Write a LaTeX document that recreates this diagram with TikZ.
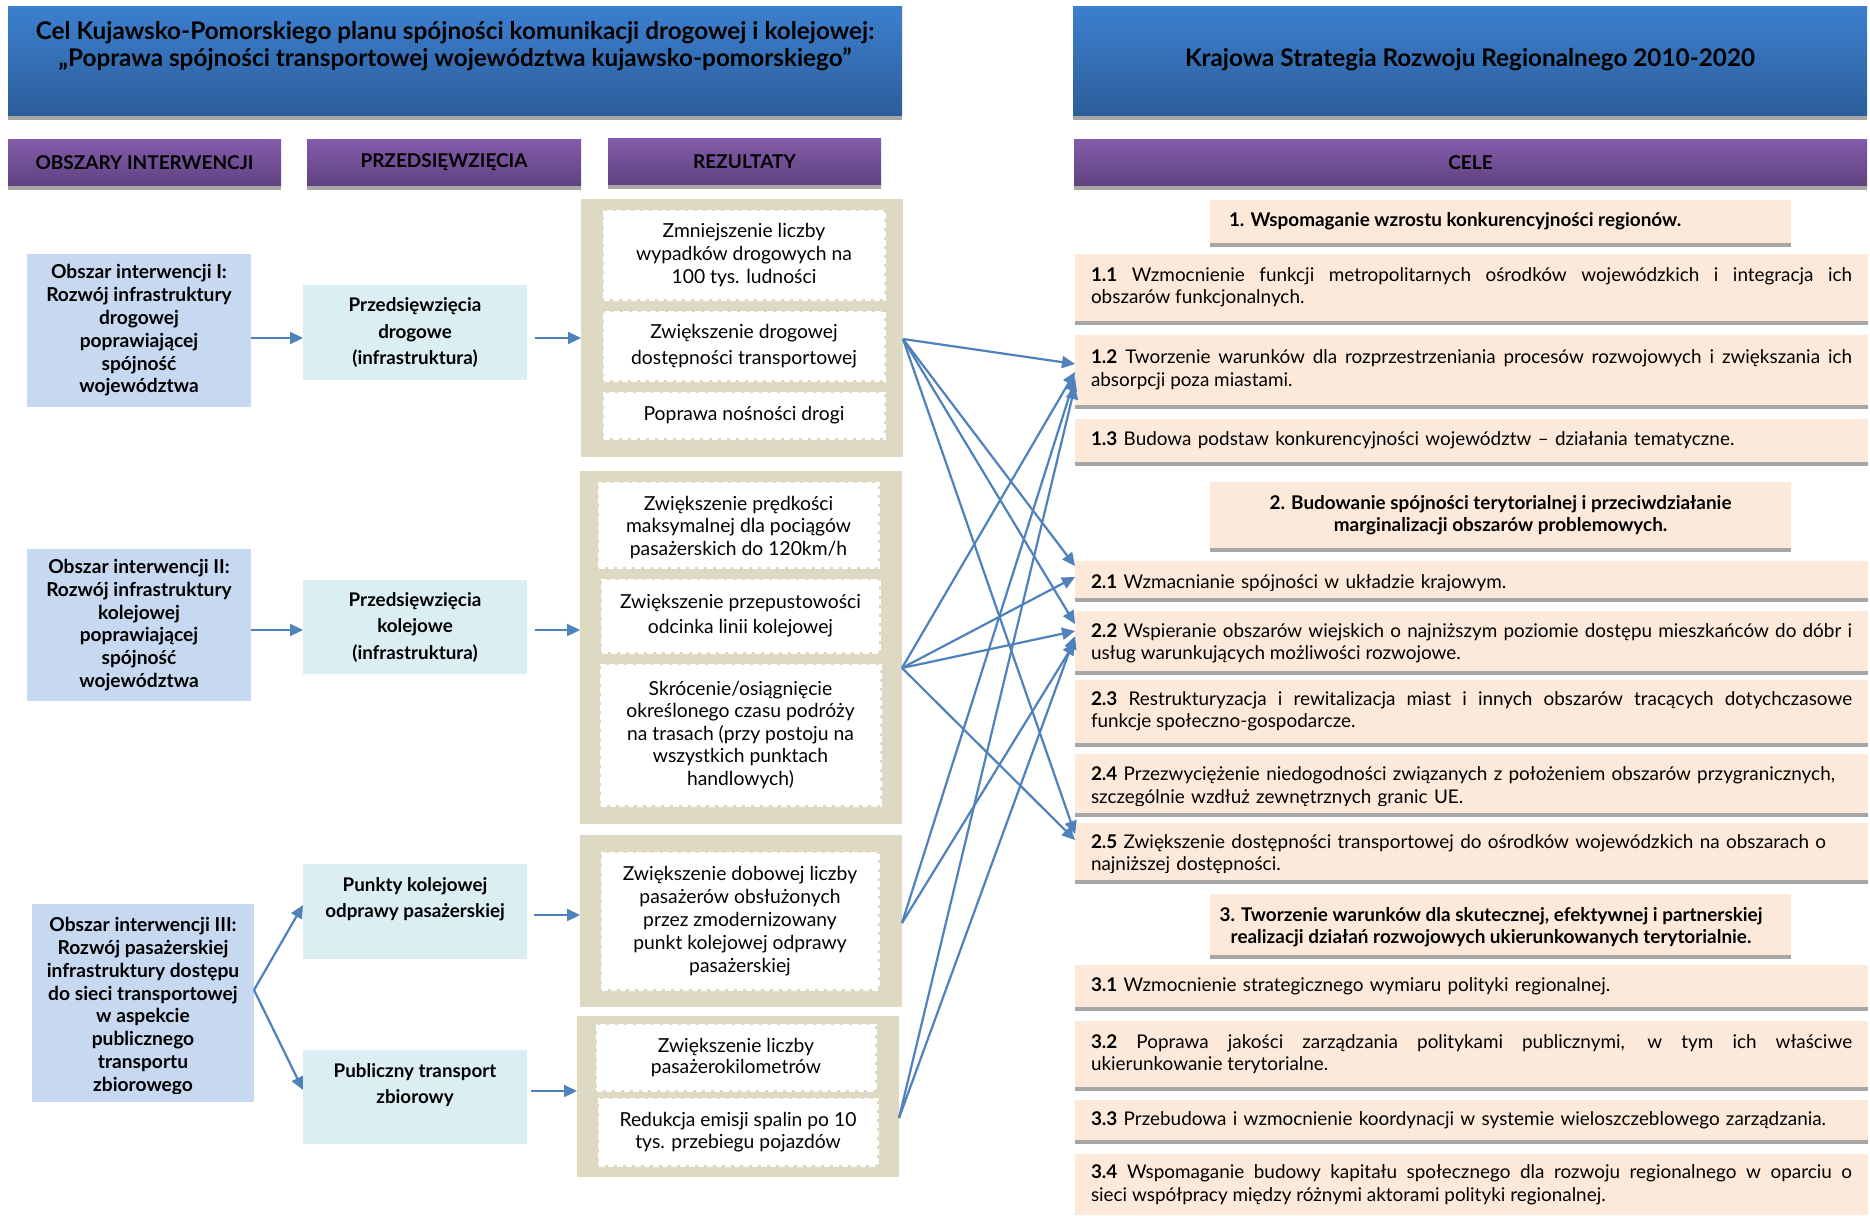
\documentclass[tikz,border=0pt]{standalone}
\usepackage{fontspec}
\setmainfont{Lato}
\usetikzlibrary{arrows.meta}
\hyphenpenalty=10000
\exhyphenpenalty=10000

\definecolor{hdrtop}{RGB}{60,127,206}
\definecolor{hdrbot}{RGB}{44,94,154}
\definecolor{purtop}{RGB}{130,92,170}
\definecolor{purbot}{RGB}{96,66,128}
\definecolor{bargrey}{RGB}{166,166,166}
\definecolor{areablue}{RGB}{198,217,241}
\definecolor{projblue}{RGB}{219,238,244}
\definecolor{tanbg}{RGB}{221,217,195}
\definecolor{peach}{RGB}{253,233,217}
\definecolor{linkblue}{RGB}{79,129,189}

\tikzset{
  every node/.style={inner sep=0pt, outer sep=0pt, text=black},
  hdrbox/.style={top color=hdrtop, bottom color=hdrbot},
  hdrtext/.style={align=center, font=\fontsize{24.3}{27.5}\selectfont\bfseries},
  colhead/.style={top color=purtop, bottom color=purbot, font=\fontsize{19}{22}\selectfont\bfseries},
  areabox/.style={fill=areablue},
  areatext/.style={align=center, font=\fontsize{19.2}{22.8}\selectfont\bfseries},
  projbox/.style={fill=projblue},
  projtext/.style={align=center, font=\fontsize{18.8}{26.5}\selectfont\bfseries},
  tangroup/.style={fill=tanbg},
  resbox/.style={fill=white, draw=white, line width=3pt, dash pattern=on 6pt off 3pt,
    align=center, font=\fontsize{19.3}{23}\selectfont},
  goalhead/.style={fill=peach, align=center, font=\fontsize{18.9}{22.5}\selectfont\bfseries},
  goalitem/.style={fill=peach},
  itemjust/.style={text width=761pt, align=justify, font=\fontsize{18.9}{22.5}\selectfont},
  itemleft/.style={text width=761pt, align=left, font=\fontsize{18.9}{22.5}\selectfont},
  link/.style={draw=linkblue, line width=2.2pt, -{Triangle[length=13pt,width=12pt]}},
}

\begin{document}
\begin{tikzpicture}[x=1pt,y=-1pt]
\useasboundingbox[fill=white] (0,0) rectangle (1870,1215);

% ---------- headers ----------
\node[hdrbox, minimum width=894pt, minimum height=109pt] (hl) at (455,61.5) {};
\node[hdrbox, minimum width=794pt, minimum height=109pt] (hr) at (1470,61.5) {};
\node[hdrtext] (hlt) at (455,46) {Cel Kujawsko-Pomorskiego planu spójności komunikacji drogowej i kolejowej:\\„Poprawa spójności transportowej województwa kujawsko-pomorskiego”};
\node[hdrtext] (hrt) at (1470,60) {Krajowa Strategia Rozwoju Regionalnego 2010-2020};

\node[colhead, minimum width=273pt, minimum height=47pt] (ph1) at (144.5,162.5) {OBSZARY INTERWENCJI};
\node[colhead, minimum width=274pt, minimum height=47pt] (ph2) at (444,162.5) {PRZEDSIĘWZIĘCIA};
\node[colhead, minimum width=273pt, minimum height=47pt] (ph3) at (744.5,161.5) {REZULTATY};
\node[colhead, minimum width=793pt, minimum height=47pt] (ph4) at (1470.5,162.5) {CELE};

% ---------- areas of intervention ----------
\node[areabox, areatext, minimum width=224pt, minimum height=153pt] (ob1) at (139,330.5)
  {Obszar interwencji I:\\Rozwój infrastruktury\\drogowej\\poprawiającej\\spójność\\województwa};
\node[areabox, areatext, minimum width=224pt, minimum height=152pt] (ob2) at (139,625)
  {Obszar interwencji II:\\Rozwój infrastruktury\\kolejowej\\poprawiającej\\spójność\\województwa};
\node[areabox, minimum width=222pt, minimum height=198pt] (ob3) at (143,1003) {};
\begin{scope}
  \clip (ob3.north west) rectangle (ob3.east |- 0,1093);
  \node[areatext] (ob3t) at (143,1006)
    {Obszar interwencji III:\\Rozwój pasażerskiej\\infrastruktury dostępu\\do sieci transportowej\\w aspekcie\\publicznego\\transportu\\zbiorowego};
\end{scope}

% ---------- projects ----------
\node[projbox, projtext, minimum width=224pt, minimum height=95pt] (pr1) at (415,332.5)
  {Przedsięwzięcia\\drogowe\\(infrastruktura)};
\node[projbox, projtext, minimum width=224pt, minimum height=94pt] (pr2) at (415,627)
  {Przedsięwzięcia\\kolejowe\\(infrastruktura)};
\node[projbox, minimum width=224pt, minimum height=95pt] (pr3) at (415,911.5) {};
\node[projtext] (pr3t) at (415,899) {Punkty kolejowej\\odprawy pasażerskiej};
\node[projbox, minimum width=224pt, minimum height=94pt] (pr4) at (415,1097) {};
\node[projtext] (pr4t) at (415,1085) {Publiczny transport\\zbiorowy};

% ---------- results ----------
\node[tangroup, minimum width=322pt, minimum height=258pt] (rg1) at (742,328) {};
\node[tangroup, minimum width=322pt, minimum height=353pt] (rg2) at (741,647.5) {};
\node[tangroup, minimum width=322pt, minimum height=172pt] (rg3) at (741,921) {};
\node[tangroup, minimum width=322pt, minimum height=161pt] (rg4) at (738,1096.5) {};

\node[resbox, minimum width=280pt, minimum height=88pt] (r11) at (744,255)
  {Zmniejszenie liczby\\wypadków drogowych na\\100 tys. ludności};
\node[resbox, minimum width=280pt, minimum height=68pt, font=\fontsize{19.3}{26}\selectfont] (r12) at (744,346)
  {Zwiększenie drogowej\\dostępności transportowej};
\node[resbox, minimum width=280pt, minimum height=45pt] (r13) at (744,415.5)
  {Poprawa nośności drogi};

\node[resbox, minimum width=279pt, minimum height=84pt] (r21) at (738.5,525) {};
\begin{scope}
  \clip (r21.north west) rectangle (r21.east |- 0,558);
  \node[align=center, font=\fontsize{19.3}{22.5}\selectfont] (r21t) at (738.5,527.5)
    {Zwiększenie prędkości\\maksymalnej dla pociągów\\pasażerskich do 120km/h};
\end{scope}
\node[resbox, minimum width=277pt, minimum height=72pt, font=\fontsize{19.3}{25}\selectfont] (r22) at (740.5,616)
  {Zwiększenie przepustowości\\odcinka linii kolejowej};
\node[resbox, minimum width=279pt, minimum height=140pt, font=\fontsize{19.3}{22.5}\selectfont] (r23) at (740.5,735)
  {Skrócenie/osiągnięcie\\określonego czasu podróży\\na trasach (przy postoju na\\wszystkich punktach\\handlowych)};

\node[resbox, minimum width=276pt, minimum height=136pt] (r31) at (740,921)
  {Zwiększenie dobowej liczby\\pasażerów obsłużonych\\przez zmodernizowany\\punkt kolejowej odprawy\\pasażerskiej};

\node[resbox, minimum width=278pt, minimum height=65pt, font=\fontsize{19.3}{21.5}\selectfont] (r41) at (736,1057.5)
  {Zwiększenie liczby\\pasażerokilometrów};
\node[resbox, minimum width=278pt, minimum height=66pt, font=\fontsize{19.3}{21.5}\selectfont] (r42) at (738,1132)
  {Redukcja emisji spalin po 10\\tys. przebiegu pojazdów};

% ---------- goals ----------
\node[goalhead, minimum width=581pt, minimum height=43pt] (g1) at (1500.5,221.5) {};
\node[font=\fontsize{18.9}{22.5}\selectfont\bfseries, anchor=west] (g1t) at (1229,221.5)
  {1. Wspomaganie wzrostu konkurencyjności regionów.};

\node[goalitem, itemjust, minimum width=793pt, minimum height=67pt] (c11) at (1471.5,287.5)
  {\textbf{1.1} Wzmocnienie funkcji metropolitarnych ośrodków wojewódzkich i integracja ich\linebreak obszarów funkcjonalnych.};
\node[goalitem, itemjust, minimum width=793pt, minimum height=70pt] (c12) at (1471.5,370)
  {\textbf{1.2} Tworzenie warunków dla rozprzestrzeniania procesów rozwojowych i zwiększania ich\linebreak absorpcji poza miastami.};
\node[goalitem, itemleft, minimum width=793pt, minimum height=43pt] (c13) at (1471.5,440.5)
  {\textbf{1.3} Budowa podstaw konkurencyjności województw – działania tematyczne.};

\node[goalhead, minimum width=581pt, minimum height=66pt] (g2) at (1500.5,515)
  {2. Budowanie spójności terytorialnej i przeciwdziałanie\\marginalizacji obszarów problemowych.};

\node[goalitem, minimum width=793pt, minimum height=37pt] (c21) at (1471.5,579.5) {};
\begin{scope}
  \clip (c21.north west) rectangle (c21.east |- 0,590);
  \node[itemleft] (c21t) at (1471.5,583)
    {\textbf{2.1} Wzmacnianie spójności w układzie krajowym.};
\end{scope}
\node[goalitem, minimum width=793pt, minimum height=60pt] (c22) at (1471.5,641) {};
\begin{scope}
  \clip (c22.north west) rectangle (c22.east |- 0,662);
  \node[itemjust] (c22t) at (1471.5,643.5)
    {\textbf{2.2} Wspieranie obszarów wiejskich o najniższym poziomie dostępu mieszkańców do dóbr i\linebreak usług warunkujących możliwości rozwojowe.};
\end{scope}
\node[goalitem, itemjust, minimum width=793pt, minimum height=63pt] (c23) at (1471.5,711.5)
  {\textbf{2.3} Restrukturyzacja i rewitalizacja miast i innych obszarów tracących dotychczasowe\linebreak funkcje społeczno-gospodarcze.};
\node[goalitem, minimum width=793pt, minimum height=59pt] (c24) at (1471.5,783.5) {};
\begin{scope}
  \clip (c24.north west) rectangle (c24.east |- 0,805);
  \node[itemleft] (c24t) at (1471.5,787)
    {\textbf{2.4} Przezwyciężenie niedogodności związanych z położeniem obszarów przygranicznych,\\szczególnie wzdłuż zewnętrznych granic UE.};
\end{scope}
\node[goalitem, minimum width=793pt, minimum height=57pt] (c25) at (1471.5,851.5) {};
\begin{scope}
  \clip (c25.north west) rectangle (c25.east |- 0,872);
  \node[itemleft] (c25t) at (1471.5,854)
    {\textbf{2.5} Zwiększenie dostępności transportowej do ośrodków wojewódzkich na obszarach o\\najniższej dostępności.};
\end{scope}

\node[goalhead, minimum width=581pt, minimum height=61pt] (g3) at (1500.5,924.5) {};
\node[align=center, font=\fontsize{18.9}{22.5}\selectfont\bfseries] (g3t) at (1491,927)
  {3. Tworzenie warunków dla skutecznej, efektywnej i partnerskiej\\realizacji działań rozwojowych ukierunkowanych terytorialnie.};

\node[goalitem, itemleft, minimum width=793pt, minimum height=42pt] (c31) at (1471.5,986)
  {\textbf{3.1} Wzmocnienie strategicznego wymiaru polityki regionalnej.};
\node[goalitem, itemjust, minimum width=793pt, minimum height=66pt] (c32) at (1471.5,1054)
  {\textbf{3.2} Poprawa jakości zarządzania politykami publicznymi, w tym ich właściwe\linebreak ukierunkowanie terytorialne.};
\node[goalitem, itemleft, minimum width=793pt, minimum height=40pt] (c33) at (1471.5,1120)
  {\textbf{3.3} Przebudowa i wzmocnienie koordynacji w systemie wieloszczeblowego zarządzania.};
\node[goalitem, itemjust, minimum width=793pt, minimum height=61pt] (c34) at (1471.5,1184.5)
  {\textbf{3.4} Wspomaganie budowy kapitału społecznego dla rozwoju regionalnego w oparciu o\linebreak sieci współpracy między różnymi aktorami polityki regionalnej.};

% ---------- grey bars under boxes ----------
\foreach \n in {hl,hr,ph1,ph2,ph3,ph4,g1,g2,g3,c11,c12,c13,c21,c22,c23,c24,c25,c31,c32,c33}
  \fill[bargrey] (\n.south west) rectangle ([yshift=-4pt]\n.south east);

% ---------- short connectors ----------
\draw[link] (ob1.east |- 0,338) -- (pr1.west |- 0,338);
\draw[link, shorten <=8pt] (pr1.east |- 0,338) -- (rg1.west |- 0,338);
\draw[link] (ob2.east |- 0,630) -- (pr2.west |- 0,630);
\draw[link, shorten <=8pt] (pr2.east |- 0,630) -- (rg2.west |- 0,630);
\draw[link] (ob3.east |- 0,990) -- (pr3.west |- 0,905);
\draw[link] (ob3.east |- 0,990) -- (pr4.west |- 0,1090);
\draw[link, shorten <=7pt] (pr3.east |- 0,915) -- (rg3.west |- 0,915);
\draw[link, shorten <=4pt] (pr4.east |- 0,1091) -- (rg4.west |- 0,1091);

% ---------- results to goals ----------
\draw[link] (rg1.east |- 0,339) -- (c12.west |- 0,364);
\draw[link] (rg1.east |- 0,339) -- (c21.west |- 0,566);
\draw[link] (rg1.east |- 0,339) -- (c22.west |- 0,624);
\draw[link] (rg1.east |- 0,339) -- (c25.west |- 0,834);

\draw[link] (rg2.east |- 0,668) -- (c12.west |- 0,372);
\draw[link] (rg2.east |- 0,668) -- (c21.west |- 0,577);
\draw[link] (rg2.east |- 0,668) -- (c22.west |- 0,631);
\draw[link] (rg2.east |- 0,668) -- (c25.west |- 0,840);

\draw[link] (rg3.east |- 0,923) -- (c12.west |- 0,378);
\draw[link] (rg3.east |- 0,923) -- (c22.west |- 0,642);

\draw[link] (rg4.east |- 0,1118) -- (c12.west |- 0,386);
\draw[link] (rg4.east |- 0,1118) -- (c22.west |- 0,636);

\end{tikzpicture}
\end{document}
